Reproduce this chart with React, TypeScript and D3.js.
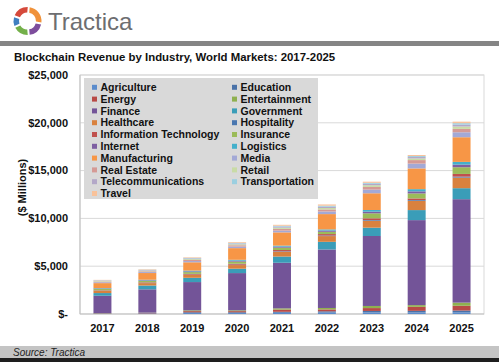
import * as d3 from "d3";

const years = ["2017", "2018", "2019", "2020", "2021", "2022", "2023", "2024", "2025"];

const industries = [
  "Agriculture", "Education", "Energy", "Entertainment", "Finance", "Government",
  "Healthcare", "Hospitality", "Information Technology", "Insurance", "Internet",
  "Logistics", "Manufacturing", "Media", "Real Estate", "Retail",
  "Telecommunications", "Transportation", "Travel",
];

const colors = [
  "#5b8ccc", "#4a72a8", "#b84a46", "#8fb04f", "#735498", "#3a9db8",
  "#d9813e", "#4a77b0", "#c0504d", "#9bbb59", "#7e5fa2", "#44b0cb",
  "#f79646", "#a3a9d6", "#d59a95", "#c9dba6", "#b3a8c8", "#9bcfe0", "#f9c29a",
];

// $ millions
const agriculture = [30, 40, 100, 100, 130, 150, 170, 160, 180];
const education = [20, 30, 80, 80, 100, 130, 150, 170, 180];
const energy = [30, 40, 120, 120, 230, 200, 300, 420, 500];
const entertainment = [20, 30, 80, 80, 130, 150, 220, 180, 330];
const finance = [1810, 2440, 2960, 3900, 4770, 6120, 7320, 8890, 10820];
const government = [280, 400, 450, 460, 650, 800, 870, 1050, 1150];
const healthcare = [220, 250, 300, 380, 500, 600, 730, 970, 1110];
const hospitality = [20, 25, 30, 40, 50, 60, 70, 80, 100];
const infoTech = [50, 60, 80, 100, 130, 150, 180, 170, 280];
const insurance = [130, 150, 180, 220, 250, 240, 520, 520, 700];
const internet = [50, 60, 80, 100, 110, 130, 170, 220, 280];
const logistics = [50, 60, 80, 90, 100, 120, 180, 230, 280];
const manufacturing = [520, 700, 870, 1220, 1390, 1600, 1750, 2170, 2580];
const media = [90, 100, 130, 160, 180, 270, 380, 500, 520];
const realEstate = [70, 80, 110, 140, 180, 220, 280, 370, 350];
const retail = [60, 70, 90, 100, 130, 150, 180, 170, 250];
const telecom = [50, 60, 80, 90, 120, 140, 150, 150, 200];
const transportation = [30, 40, 50, 60, 80, 100, 100, 100, 150];
const travel = [40, 50, 60, 80, 100, 130, 120, 110, 160];

const series = [
  agriculture, education, energy, entertainment, finance, government,
  healthcare, hospitality, infoTech, insurance, internet, logistics,
  manufacturing, media, realEstate, retail, telecom, transportation, travel,
];

const yTicks = [0, 5000, 10000, 15000, 20000, 25000];

// logo ring pieces (start, end in degrees, colour)
const logoPieces = [
  [-70, 5, "#d5493b"],
  [5, 100, "#f0923a"],
  [100, 175, "#7d4d9c"],
  [175, 245, "#74b04a"],
  [245, 290, "#3f7fc0"],
];

const W = 499;
const H = 362;
const font = "Arial, 'Liberation Sans', sans-serif";

export default function App() {
  const plotLeft = 80;
  const plotRight = 484;
  const plotTop = 75;
  const plotBottom = 314;

  const x = d3.scaleBand().domain(years).range([plotLeft, plotRight]).paddingInner(0.6).paddingOuter(0.3);
  const y = d3.scaleLinear().domain([0, 25000]).range([plotBottom, plotTop]);

  const table = years.map((yr, i) => {
    const row: any = { year: yr };
    industries.forEach((name, k) => (row[name] = series[k][i]));
    return row;
  });
  const stacked = d3.stack().keys(industries)(table);

  const fmt = (v: number) => (v === 0 ? "$-" : "$" + d3.format(",")(v));

  const arc = d3.arc();

  return (
    <svg width={W} height={H} style={{ position: "absolute", left: 0, top: 0, background: "#fff" }} fontFamily={font}>
      <rect x={0} y={0} width={W} height={H} fill="#fff" />
      {/* logo */}
      <g transform="translate(27.5,21)">
        {logoPieces.map((p, i) => (
          <path
            key={i}
            fill={p[2] as string}
            d={arc({
              innerRadius: 8.5,
              outerRadius: 14,
              startAngle: ((p[0] as number) * Math.PI) / 180,
              endAngle: ((p[1] as number) * Math.PI) / 180,
              padAngle: 0.12,
            } as any) as string}
          />
        ))}
      </g>
      <text x={48} y={30} fontSize={24} fill="#6d6e71" fontFamily={font}>Tractica</text>
      <rect x={0} y={41} width={W} height={5} fill="#858585" />
      <text x={14} y={61} fontSize={11.4} fontWeight="bold" fill="#111">
        Blockchain Revenue by Industry, World Markets: 2017-2025
      </text>

      {/* plot frame + grid */}
      <rect x={plotLeft} y={plotTop} width={plotRight - plotLeft} height={plotBottom - plotTop} fill="none" stroke="#d9d9d9" />
      {yTicks.map((t) => (
        <g key={t}>
          <line x1={plotLeft} x2={plotRight} y1={y(t)} y2={y(t)} stroke={t === 0 ? "#bfbfbf" : "#d9d9d9"} />
          <text x={68} y={y(t)} dy="0.35em" textAnchor="end" fontSize={11} fontWeight="bold" fill="#111">
            {fmt(t)}
          </text>
        </g>
      ))}
      <line x1={plotLeft} x2={plotLeft} y1={plotTop} y2={plotBottom} stroke="#bfbfbf" />
      <text
        transform={`translate(22,${(plotTop + plotBottom) / 2 - 7}) rotate(-90)`}
        textAnchor="middle"
        dy="0.35em"
        fontSize={11}
        fontWeight="bold"
        fill="#111"
      >
        ($ Millions)
      </text>

      {/* bars */}
      {stacked.map((layer, k) => (
        <g key={layer.key} fill={colors[k]}>
          {layer.map((d: any, i) => (
            <rect
              key={i}
              x={x(years[i])}
              width={x.bandwidth()}
              y={y(d[1])}
              height={Math.max(0, y(d[0]) - y(d[1]))}
            />
          ))}
        </g>
      ))}
      {years.map((yr) => (
        <text key={yr} x={(x(yr) as number) + x.bandwidth() / 2} y={332} textAnchor="middle" fontSize={11} fontWeight="bold" fill="#111">
          {yr}
        </text>
      ))}

      {/* legend */}
      <rect x={84} y={78} width={234} height={121} fill="#d9d9d9" />
      {industries.map((name, k) => {
        const col = k % 2;
        const row = Math.floor(k / 2);
        const lx = col === 0 ? 92 : 232;
        const ly = 87.3 + row * 11.8;
        return (
          <g key={name}>
            <rect x={lx} y={ly - 2.5} width={5} height={5} fill={colors[k]} />
            <text x={lx + 8.5} y={ly} dy="0.35em" fontSize={10.5} fontWeight="bold" fill="#111">
              {name}
            </text>
          </g>
        );
      })}

      {/* footer */}
      <rect x={0} y={346} width={W} height={12} fill="#c4c4c4" />
      <rect x={0} y={358} width={W} height={4} fill="#1e1e1e" />
      <text x={13} y={355.5} fontSize={10} fontStyle="italic" fill="#222">Source: Tractica</text>
    </svg>
  );
}
